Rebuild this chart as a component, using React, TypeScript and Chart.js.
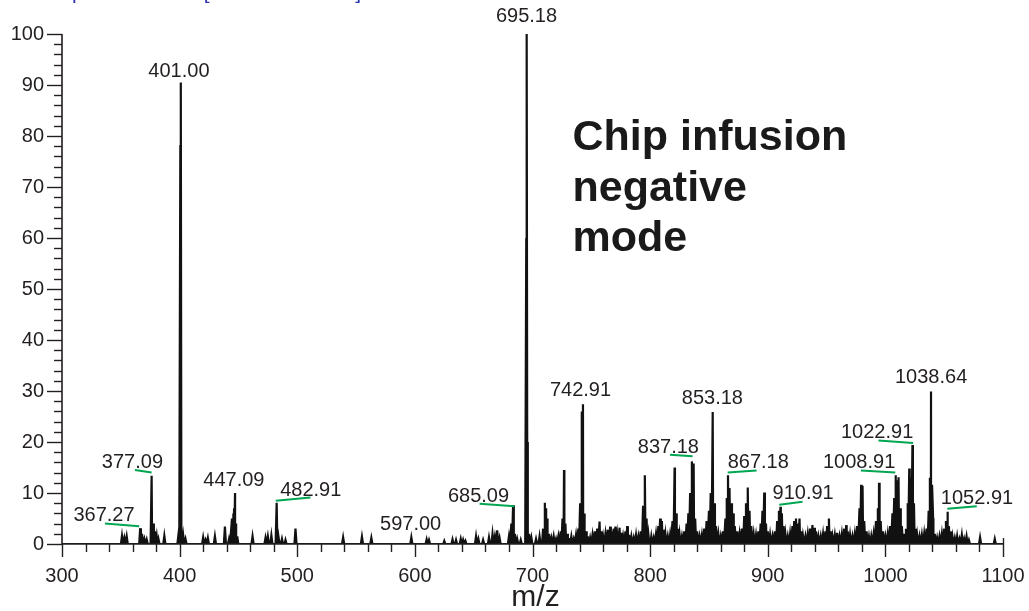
import React, { useEffect, useRef } from 'react';
import { Chart, registerables } from 'chart.js';

Chart.register(...registerables);

// ---- Spectrum peaks (m/z, relative abundance %) ----
const mz300to500 = [351, 353, 355, 366.5, 368, 370, 372, 376.2, 377.5, 379, 380.5, 382, 387, 399, 400.6, 401.0, 403, 405, 420, 422, 424, 430, 438.5, 442, 444.5, 445.5, 446.3, 447.1, 448, 449, 462, 473, 475, 478, 482.5, 484, 487, 490, 498.5];
const int300to500 = [1.6, 1.2, 1.5, 3.1, 2.0, 1.0, 0.9, 13.4, 4.0, 2.5, 1.5, 1.0, 1.6, 1.8, 78, 90.5, 1.8, 1.0, 1.3, 0.8, 1.2, 1.5, 3.4, 1.0, 5.0, 6.0, 7.0, 10.0, 4.0, 1.5, 1.5, 1.2, 1.5, 1.7, 8.1, 1.5, 1.0, 0.8, 3.0];

const mz500to700 = [539, 555, 563, 597, 610, 612, 625, 632, 635, 639, 641, 643, 652, 654, 658, 663, 666, 668, 670, 672, 680, 682, 683.5, 685, 687, 690, 694.7, 695.2, 695.8, 697, 699];
const int500to700 = [1.3, 1.4, 1.2, 1.3, 0.9, 0.8, 0.6, 0.9, 0.8, 1.0, 0.8, 0.6, 1.5, 1.0, 0.8, 1.3, 2.0, 1.5, 2.7, 1.2, 1.5, 4.0, 7.6, 2.0, 1.0, 0.8, 60, 100, 20, 2.0, 1.3];

const mz700to800 = [703, 706, 709, 710.4, 711.5, 712.5, 714, 716, 718, 720, 722, 724, 725.5, 726.8, 728, 729.5, 731, 733, 735, 737, 739, 740.5, 741.8, 742.9, 744, 745.5, 747, 749, 751, 753, 755, 757, 758.5, 760, 762, 764, 766, 767.5, 769, 770.5, 772, 774, 775.5, 777, 779, 780.5, 782, 784, 786, 788, 790, 792, 794, 795.5, 797, 798.5];
const int700to800 = [1.0, 1.5, 3.0, 8.1, 7.0, 5.0, 2.0, 1.2, 1.5, 1.0, 1.5, 2.5, 5.0, 14.5, 4.0, 2.0, 1.2, 1.5, 1.0, 1.8, 3.0, 8.0, 26, 27.4, 6.0, 2.5, 1.5, 1.2, 1.8, 2.5, 3.0, 4.4, 2.5, 1.5, 2.0, 2.8, 3.4, 2.5, 3.0, 3.4, 2.0, 3.2, 2.2, 1.5, 2.5, 3.5, 1.8, 1.5, 1.2, 1.8, 1.5, 2.5, 7.5, 13.5, 5.0, 2.0];

const mz800to900 = [801, 803, 805, 807, 808.5, 810, 811.5, 813, 815, 817, 819, 820.8, 822, 823.5, 825, 827, 829, 831, 832.5, 834, 835.5, 837, 838.3, 840, 842, 844, 846, 848, 850, 851.5, 853.2, 854.5, 856, 858, 860, 862, 864, 865, 866.2, 867.5, 869, 870.5, 872, 874, 876, 878, 880, 881.5, 883, 884.5, 886, 888, 890, 892, 894, 895.5, 897, 898.5, 900];
const int800to900 = [1.5, 1.2, 2.0, 3.5, 5.0, 4.5, 2.8, 2.0, 1.5, 1.8, 4.5, 15.0, 6.0, 3.0, 2.0, 1.5, 2.5, 4.0, 6.0, 10.0, 16.2, 15.8, 5.0, 2.5, 1.5, 1.8, 3.0, 4.5, 6.5, 10.0, 25.9, 8.0, 3.5, 2.0, 1.5, 2.5, 5.0, 9.0, 13.5, 11.0, 8.0, 6.0, 3.5, 2.5, 2.0, 3.0, 5.5, 8.0, 11.1, 6.5, 3.5, 2.0, 1.8, 2.5, 4.0, 6.5, 10.1, 4.0, 2.5];

const mz900to1000 = [902, 904, 906, 908, 909.5, 910.8, 912, 913.5, 915, 917, 919, 921, 922.5, 924, 925.5, 927, 928.5, 930, 932, 934, 936, 938, 939.5, 941, 943, 945, 947, 949, 950.5, 952, 953.5, 955, 957, 959, 961, 963, 965, 966.7, 968, 970, 972, 974, 976, 978, 979.4, 980.6, 982, 984, 986, 988, 990, 992, 993.5, 994.6, 996, 998];
const int900to1000 = [1.8, 1.5, 2.5, 4.5, 6.5, 7.3, 6.0, 3.5, 2.0, 1.5, 2.0, 3.5, 4.5, 5.0, 4.0, 5.0, 2.5, 1.5, 1.5, 2.0, 3.0, 3.7, 3.2, 2.5, 1.5, 1.5, 2.0, 2.5, 3.5, 5.0, 2.5, 1.5, 1.8, 2.2, 1.5, 2.0, 3.0, 3.7, 2.5, 1.8, 1.5, 2.0, 3.5, 7.0, 11.6, 11.4, 4.5, 2.5, 1.5, 1.5, 2.0, 4.5, 7.0, 12.0, 4.5, 2.5];

const mz1000to1100 = [1000, 1002, 1004, 1006, 1007.5, 1008.8, 1010, 1011.2, 1012.5, 1014, 1016, 1017.5, 1019, 1020.3, 1021.6, 1023, 1024.3, 1025.8, 1027, 1029, 1031, 1033, 1035, 1036.8, 1037.8, 1038.8, 1039.7, 1040.6, 1042, 1044, 1046, 1048, 1050, 1051.5, 1052.8, 1054, 1055.5, 1057, 1059, 1061, 1063, 1065, 1067, 1069, 1071, 1080.5, 1093];
const int1000to1100 = [1.5, 2.0, 3.5, 6.0, 9.0, 13.5, 12.5, 13.1, 7.0, 3.5, 2.0, 3.0, 8.0, 14.8, 13.0, 19.4, 8.0, 3.0, 1.8, 1.5, 1.8, 2.0, 3.0, 6.5, 13.0, 29.9, 11.6, 5.0, 2.0, 1.2, 1.5, 2.0, 3.0, 4.5, 6.3, 3.5, 2.5, 1.5, 1.2, 1.5, 1.0, 1.8, 1.0, 1.5, 0.8, 1.3, 1.0];

// ---- Axis ticks ----
const xTickMajor = [300, 400, 500, 600, 700, 800, 900, 1000, 1100];
const yTickMajor = [0, 10, 20, 30, 40, 50, 60, 70, 80, 90, 100];

// ---- Peak annotations ----
const labelTexts = ['401.00', '695.18', '377.09', '367.27', '447.09', '482.91', '597.00', '685.09', '742.91', '853.18', '837.18', '867.18', '910.91', '1008.91', '1022.91', '1038.64', '1052.91'];
const labelMz = [399.4, 694.9, 359.9, 335.7, 446.1, 511.5, 596.4, 654.1, 740.8, 852.9, 815.5, 891.9, 930.1, 977.7, 993.0, 1038.9, 1077.9];
const labelVal = [91.5, 102.3, 15.0, 4.5, 11.3, 9.5, 2.8, 8.2, 29.1, 27.5, 17.9, 15.0, 8.9, 15.0, 20.7, 31.5, 7.9];

const greenMzStart = [362.0, 336.5, 481.7, 655.0, 816.9, 865.9, 909.8, 979.2, 994.1, 1052.7];
const greenValStart = [14.5, 4.0, 8.5, 7.9, 17.5, 14.0, 7.7, 14.4, 20.3, 6.9];
const greenMzEnd = [376.2, 365.6, 511.2, 684.7, 836.1, 890.5, 929.6, 1008.4, 1023.6, 1077.7];
const greenValEnd = [14.0, 3.5, 9.1, 7.4, 17.2, 14.4, 8.3, 14.0, 19.8, 7.4];

const noteLines = ['Chip infusion', 'negative', 'mode'];
const noteMz = 734;
const noteVals = [77.2, 67.3, 57.4];

const FONT = '"Liberation Sans", Arial, Helvetica, sans-serif';
const INK = '#231f20';

function buildPoints() {
  const hw = 0.9;
  const pairs: [number[], number[]][] = [
    [mz300to500, int300to500],
    [mz500to700, int500to700],
    [mz700to800, int700to800],
    [mz800to900, int800to900],
    [mz900to1000, int900to1000],
    [mz1000to1100, int1000to1100],
  ];
  const pts: { x: number; y: number; o: number }[] = [];
  let o = 0;
  for (const [mzs, ints] of pairs) {
    for (let i = 0; i < mzs.length; i++) {
      pts.push({ x: mzs[i] - hw, y: 0, o: o++ });
      pts.push({ x: mzs[i], y: ints[i], o: o++ });
      pts.push({ x: mzs[i] + hw, y: 0, o: o++ });
    }
  }
  pts.sort((a, b) => a.x - b.x || a.o - b.o);
  return [{ x: 300, y: 0 }, ...pts.map((p) => ({ x: p.x, y: p.y })), { x: 1100, y: 0 }];
}

const decorPlugin = {
  id: 'decor',
  afterDraw(chart: any) {
    const ctx = chart.ctx as CanvasRenderingContext2D;
    const xs = chart.scales.x;
    const ys = chart.scales.y;
    const area = chart.chartArea;
    ctx.save();
    // axes
    ctx.strokeStyle = INK;
    ctx.lineWidth = 1.6;
    ctx.beginPath();
    ctx.moveTo(area.left, ys.getPixelForValue(100));
    ctx.lineTo(area.left, ys.getPixelForValue(0));
    ctx.lineTo(xs.getPixelForValue(1100), ys.getPixelForValue(0));
    ctx.stroke();
    // y ticks (every 2, major every 10)
    ctx.lineWidth = 1.4;
    for (let v = 0; v <= 100; v += 2) {
      const y = Math.round(ys.getPixelForValue(v)) + 0.5;
      const major = yTickMajor.includes(v);
      ctx.beginPath();
      ctx.moveTo(area.left - (major ? 15 : 8), y);
      ctx.lineTo(area.left, y);
      ctx.stroke();
    }
    // x ticks (every 20, major every 100)
    for (let v = 300; v <= 1100; v += 20) {
      const x = Math.round(xs.getPixelForValue(v)) + 0.5;
      const major = xTickMajor.includes(v);
      const y0 = ys.getPixelForValue(0);
      ctx.beginPath();
      ctx.moveTo(x, v === 1100 ? y0 - 6 : y0);
      ctx.lineTo(x, y0 + (major ? 13 : 8));
      ctx.stroke();
    }
    // green underlines
    ctx.strokeStyle = '#00a651';
    ctx.lineWidth = 2;
    for (let i = 0; i < greenMzStart.length; i++) {
      ctx.beginPath();
      ctx.moveTo(xs.getPixelForValue(greenMzStart[i]), ys.getPixelForValue(greenValStart[i]));
      ctx.lineTo(xs.getPixelForValue(greenMzEnd[i]), ys.getPixelForValue(greenValEnd[i]));
      ctx.stroke();
    }
    // peak labels
    ctx.fillStyle = INK;
    ctx.font = `20px ${FONT}`;
    ctx.textAlign = 'center';
    ctx.textBaseline = 'alphabetic';
    for (let i = 0; i < labelTexts.length; i++) {
      ctx.fillText(labelTexts[i], xs.getPixelForValue(labelMz[i]), ys.getPixelForValue(labelVal[i]));
    }
    // note
    ctx.font = `bold 43px ${FONT}`;
    ctx.textAlign = 'left';
    ctx.fillStyle = '#1a1a1a';
    for (let i = 0; i < noteLines.length; i++) {
      ctx.fillText(noteLines[i], xs.getPixelForValue(noteMz), ys.getPixelForValue(noteVals[i]));
    }
    // axis title
    ctx.font = `30px ${FONT}`;
    ctx.textAlign = 'center';
    ctx.fillStyle = INK;
    ctx.fillText('m/z', xs.getPixelForValue(700) + 3, 606);
    // cut-off header line at the very top
    ctx.font = `21px ${FONT}`;
    ctx.textAlign = 'left';
    ctx.fillStyle = '#555555';
    ctx.fillText('FTMS -', 0, -2);
    ctx.fillStyle = '#2b35b0';
    ctx.fillText('p NSI Full ms [300.00-1100.00]', 72, -1);
    ctx.restore();
  },
};

export default function App() {
  const ref = useRef<HTMLCanvasElement | null>(null);
  useEffect(() => {
    if (!ref.current) return;
    const tickFont = { family: FONT, size: 20 };
    const chart = new Chart(ref.current, {
      type: 'line',
      data: {
        datasets: [
          {
            data: buildPoints(),
            borderColor: '#111111',
            borderWidth: 2.2,
            pointRadius: 0,
            tension: 0,
            fill: false,
          },
        ],
      },
      options: {
        responsive: false,
        animation: false,
        maintainAspectRatio: false,
        layout: { padding: { left: 0, right: 26, top: 34, bottom: 0 } },
        plugins: { legend: { display: false }, tooltip: { enabled: false } },
        scales: {
          x: {
            type: 'linear',
            min: 300,
            max: 1100,
            grid: { display: false, drawTicks: false, tickLength: 0 },
            border: { display: false },
            ticks: {
              stepSize: 100,
              font: tickFont,
              color: INK,
              padding: 20,
              maxRotation: 0,
              autoSkip: false,
              callback: (v: any) => String(v),
            },
            afterFit: (s: any) => {
              s.height = 67;
              s.paddingLeft = 0;
              s.paddingRight = 0;
            },
          },
          y: {
            min: 0,
            max: 100,
            grid: { display: false, drawTicks: false, tickLength: 0 },
            border: { display: false },
            ticks: { stepSize: 10, font: tickFont, color: INK, padding: 18, autoSkip: false },
            afterFit: (s: any) => {
              s.width = 62;
            },
          },
        },
      },
      plugins: [decorPlugin],
    } as any);
    return () => chart.destroy();
  }, []);
  return (
    <div style={{ position: 'absolute', left: 0, top: 0, width: 1029, height: 611, background: '#fff' }}>
      <canvas ref={ref} width={1029} height={611} />
    </div>
  );
}
